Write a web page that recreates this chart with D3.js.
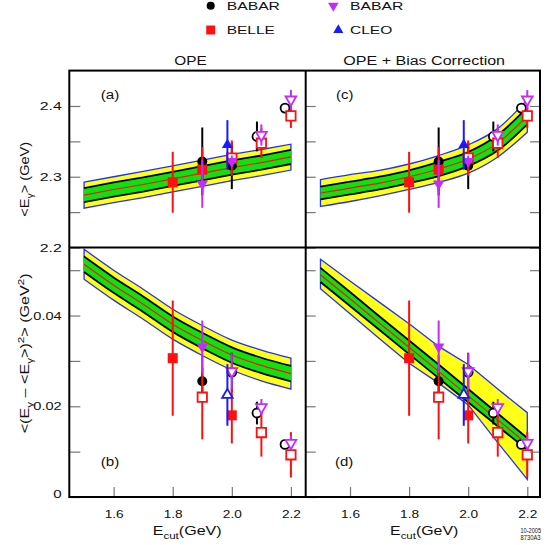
<!DOCTYPE html>
<html><head><meta charset="utf-8">
<script src="https://cdn.jsdelivr.net/npm/d3@7"></script>
<style>body{margin:0;background:#fff} svg{display:block}</style>
</head><body><svg id="c" width="546" height="545"></svg>
<script>
// ---------------- DATA ----------------
const bandX = [1.5, 1.6, 1.7, 1.8, 1.9, 2.0, 2.1, 2.2];
// (a) OPE, <E>
const aOuterHi = [2.2925, 2.300, 2.3075, 2.3155, 2.3235, 2.3315, 2.3385, 2.346];
const aInnerHi = [2.284, 2.292, 2.299, 2.307, 2.315, 2.323, 2.330, 2.338];
const aCenter  = [2.274, 2.282, 2.289, 2.297, 2.305, 2.313, 2.320, 2.328];
const aInnerLo = [2.264, 2.272, 2.279, 2.287, 2.295, 2.303, 2.310, 2.318];
const aOuterLo = [2.2555, 2.2635, 2.2705, 2.2785, 2.2865, 2.2945, 2.3015, 2.3095];
// (c) OPE + bias, <E>
const cOuterHi = [2.296, 2.303, 2.309, 2.318, 2.330, 2.345, 2.368, 2.409];
const cInnerHi = [2.286, 2.293, 2.300, 2.309, 2.321, 2.335, 2.359, 2.398];
const cCenter  = [2.277, 2.284, 2.291, 2.300, 2.311, 2.325, 2.3475, 2.386];
const cInnerLo = [2.268, 2.275, 2.282, 2.291, 2.301, 2.315, 2.337, 2.374];
const cOuterLo = [2.258, 2.265, 2.273, 2.282, 2.292, 2.305, 2.328, 2.363];
// (b) OPE, variance
const bOuterHi = [0.0546, 0.0500, 0.0458, 0.0414, 0.0378, 0.0346, 0.0324, 0.0306];
const bInnerHi = [0.0530, 0.0484, 0.0442, 0.0398, 0.0362, 0.0330, 0.0307, 0.0289];
const bCenter  = [0.0513, 0.0467, 0.0425, 0.0381, 0.0345, 0.0313, 0.0290, 0.0272];
const bInnerLo = [0.0496, 0.0450, 0.0408, 0.0364, 0.0328, 0.0296, 0.0273, 0.0255];
const bOuterLo = [0.0480, 0.0434, 0.0392, 0.0348, 0.0312, 0.0280, 0.0256, 0.0238];
// (d) OPE + bias, variance
const dOuterHi = [0.0524, 0.0476, 0.0429, 0.0382, 0.0332, 0.0292, 0.0238, 0.0186];
const dInnerHi = [0.0505, 0.0452, 0.0398, 0.0345, 0.0292, 0.0238, 0.0184, 0.0130];
const dCenter  = [0.0490, 0.0437, 0.0383, 0.0330, 0.0277, 0.0223, 0.0170, 0.0117];
const dInnerLo = [0.0474, 0.0421, 0.0368, 0.0315, 0.0262, 0.0209, 0.0156, 0.0104];
const dOuterLo = [0.0459, 0.0404, 0.0349, 0.0295, 0.0251, 0.0203, 0.0120, 0.0039];

// BABAR (circles)
const babarX        = [1.9, 2.0, 2.085, 2.18];
const babarMean     = [2.3216, 2.3155, 2.357, 2.397];
const babarMeanErr  = [0.048, 0.033, 0.021, 0.007];
const babarMeanOpen = [0, 0, 1, 1];
const babarVar      = [0.0255, 0.0275, 0.0185, 0.0116];
const babarVarErr   = [0.003, 0.0043, 0.0025, 0.0008];
const babarVarOpen  = [0, 1, 1, 1];
// BELLE (squares)
const belleX        = [1.8, 1.9, 2.0, 2.1, 2.2];
const belleMean     = [2.2922, 2.310, 2.3263, 2.3474, 2.386];
const belleMeanErr  = [0.043, 0.032, 0.025, 0.021, 0.017];
const belleMeanOpen = [0, 0, 1, 1, 1];
const belleVar      = [0.0306, 0.0220, 0.0180, 0.0142, 0.0093];
const belleVarErr   = [0.0127, 0.0093, 0.0062, 0.0053, 0.005];
const belleVarOpen  = [0, 1, 0, 1, 1];
// BABAR (down triangles)
const babar2X        = [1.9, 2.0, 2.1, 2.2];
const babar2Mean     = [2.290, 2.322, 2.359, 2.409];
const babar2MeanErr  = [0.034, 0.008, 0.015, 0.0135];
const babar2MeanOpen = [0, 0, 1, 1];
const babar2Var      = [0.0331, 0.0277, 0.0198, 0.0119];
const babar2VarErr   = [0.0058, 0.004, 0.0018, 0.0015];
const babar2VarOpen  = [0, 1, 1, 1];
// CLEO (up triangles)
const cleoX        = [1.985];
const cleoMean     = [2.345];
const cleoMeanErr  = [0.035];
const cleoMeanOpen = [0];
const cleoVar      = [0.0225];
const cleoVarErr   = [0.0068];
const cleoVarOpen  = [1];

const xTicks = [1.6, 1.8, 2.0, 2.2];
const xTickLabels = ["1.6", "1.8", "2.0", "2.2"];
const yTopMajor = [2.2, 2.3, 2.4];
const yTopLabels = ["2.2", "2.3", "2.4"];
const yTopMinor = [2.25, 2.35];
const yBotMajor = [0, 0.02, 0.04];
const yBotLabels = ["0", "0.02", "0.04"];
const yBotMinor = [0.01, 0.03, 0.05];

// ---------------- LAYOUT ----------------
const svg = d3.select('#c');
const FONT = '"Liberation Sans", Arial, Helvetica, sans-serif';
const X0 = 69.3, XM = 305.7, X1 = 540, Y0 = 70.6, YM = 247.5, Y1 = 497;
const xL = d3.scaleLinear().domain([1.45, 2.25]).range([X0, XM]);
const xR = d3.scaleLinear().domain([1.45, 2.243]).range([XM, X1]);
const yT = d3.scaleLinear().domain([2.2, 2.45]).range([YM, Y0]);
const yB = d3.scaleLinear().domain([0, 0.055]).range([Y1, YM]);

const C = {black: '#000', red: '#ff1010', mag: '#c22cff', blue: '#1a1aff',
           yellow: '#ffff18', green: '#10e010', bandBlue: '#2030ff'};

function txt(s, x, y, size, w, anchor) {
  const t = svg.append('text').attr('x', x).attr('y', y).attr('font-size', size)
    .attr('font-family', FONT).attr('text-anchor', anchor || 'middle').attr('fill', '#111').text(s);
  if (w) t.attr('textLength', w).attr('lengthAdjust', 'spacingAndGlyphs');
  return t;
}
function rich(parts, x, y, size, targetW, rot) {
  const g = svg.append('g').attr('transform', `translate(${x},${y})` + (rot ? ` rotate(${rot})` : ''));
  const inner = g.append('g');
  const t = inner.append('text').attr('font-family', FONT).attr('font-size', size).attr('fill', '#111');
  let cur = 0;
  parts.forEach(p => {
    const off = p.sub ? size * 0.32 : (p.sup ? -size * 0.42 : 0);
    const ts = t.append('tspan').text(p.t).attr('dy', off - cur);
    if (p.sub || p.sup) ts.attr('font-size', size * 0.72);
    cur = off;
  });
  const bb = t.node().getBBox();
  const s = targetW / bb.width;
  inner.attr('transform', `scale(${s},1) translate(${-(bb.x + bb.width / 2)},0)`);
}

function drawBand(xs, ys, hiO, hiI, cen, loI, loO, curve) {
  const pts = bandX.map((v, i) => ({x: v, hiO: hiO[i], hiI: hiI[i], c: cen[i], loI: loI[i], loO: loO[i]}));
  const g = svg.append('g');
  g.append('path').datum(pts)
    .attr('d', d3.area().curve(curve).x(d => xs(d.x)).y0(d => ys(d.loO)).y1(d => ys(d.hiO)))
    .attr('fill', C.yellow).attr('stroke', C.bandBlue).attr('stroke-width', 1.3);
  g.append('path').datum(pts)
    .attr('d', d3.area().curve(curve).x(d => xs(d.x)).y0(d => ys(d.loI)).y1(d => ys(d.hiI)))
    .attr('fill', C.green);
  ['hiI', 'loI'].forEach(k => g.append('path').datum(pts)
    .attr('d', d3.line().curve(curve).x(d => xs(d.x)).y(d => ys(d[k])))
    .attr('fill', 'none').attr('stroke', '#000').attr('stroke-width', 1.8));
  g.append('path').datum(pts)
    .attr('d', d3.line().curve(curve).x(d => xs(d.x)).y(d => ys(d.c)))
    .attr('fill', 'none').attr('stroke', C.red).attr('stroke-width', 1.2);
}

const shapes = {
  circle: {type: d3.symbolCircle, fill: 78, open: 62, rot: 0},
  square: {type: d3.symbolSquare, fill: 100, open: 88, rot: 0},
  down:   {type: d3.symbolTriangle, fill: 56, open: 50, rot: 180},
  up:     {type: d3.symbolTriangle, fill: 52, open: 48, rot: 0}
};
function drawSeries(xs, ys, xv, yv, ev, open, shape, color) {
  const g = svg.append('g');
  const sh = shapes[shape];
  xv.forEach((xx, i) => {
    g.append('line').attr('x1', xs(xx)).attr('x2', xs(xx))
      .attr('y1', ys(yv[i] - ev[i])).attr('y2', ys(yv[i] + ev[i]))
      .attr('stroke', color).attr('stroke-width', 2);
  });
  xv.forEach((xx, i) => {
    const o = open[i];
    g.append('path').attr('d', d3.symbol(sh.type, o ? sh.open : sh.fill)())
      .attr('transform', `translate(${xs(xx)},${ys(yv[i])}) rotate(${sh.rot})`)
      .attr('fill', o ? '#fff' : color).attr('stroke', o ? color : 'none').attr('stroke-width', 1.8);
  });
}

// bands
drawBand(xL, yT, aOuterHi, aInnerHi, aCenter, aInnerLo, aOuterLo, d3.curveLinear);
drawBand(xR, yT, cOuterHi, cInnerHi, cCenter, cInnerLo, cOuterLo, d3.curveMonotoneX);
drawBand(xL, yB, bOuterHi, bInnerHi, bCenter, bInnerLo, bOuterLo, d3.curveMonotoneX);
drawBand(xR, yB, dOuterHi, dInnerHi, dCenter, dInnerLo, dOuterLo, d3.curveLinear);

// points
[[xL, yT], [xR, yT]].forEach(([xs, ys]) => {
  drawSeries(xs, ys, babarX, babarMean, babarMeanErr, babarMeanOpen, 'circle', C.black);
  drawSeries(xs, ys, belleX, belleMean, belleMeanErr, belleMeanOpen, 'square', C.red);
  drawSeries(xs, ys, babar2X, babar2Mean, babar2MeanErr, babar2MeanOpen, 'down', C.mag);
  drawSeries(xs, ys, cleoX, cleoMean, cleoMeanErr, cleoMeanOpen, 'up', C.blue);
});
[[xL, yB], [xR, yB]].forEach(([xs, ys]) => {
  drawSeries(xs, ys, babarX, babarVar, babarVarErr, babarVarOpen, 'circle', C.black);
  drawSeries(xs, ys, belleX, belleVar, belleVarErr, belleVarOpen, 'square', C.red);
  drawSeries(xs, ys, babar2X, babar2Var, babar2VarErr, babar2VarOpen, 'down', C.mag);
  drawSeries(xs, ys, cleoX, cleoVar, cleoVarErr, cleoVarOpen, 'up', C.blue);
});

// axes (inward ticks)
function styleAxis(g) {
  g.select('.domain').remove();
  g.selectAll('.tick line').attr('stroke', '#777').attr('stroke-width', 1.2);
  g.selectAll('.tick text').remove();
}
const yTopTicks = yTopMajor.concat(yTopMinor), yBotTicks = yBotMajor.concat(yBotMinor);
svg.append('g').attr('transform', `translate(${X0},0)`).call(d3.axisLeft(yT).tickValues(yTopTicks).tickSize(-11)).call(styleAxis);
svg.append('g').attr('transform', `translate(${X0},0)`).call(d3.axisLeft(yB).tickValues(yBotTicks).tickSize(-11)).call(styleAxis);
svg.append('g').attr('transform', `translate(${XM},0)`).call(d3.axisLeft(yT).tickValues(yTopTicks).tickSize(-10)).call(styleAxis);
svg.append('g').attr('transform', `translate(${XM},0)`).call(d3.axisLeft(yB).tickValues(yBotTicks).tickSize(-10)).call(styleAxis);
svg.append('g').attr('transform', `translate(${X1},0)`).call(d3.axisRight(yT).tickValues(yTopTicks).tickSize(-10)).call(styleAxis);
svg.append('g').attr('transform', `translate(${X1},0)`).call(d3.axisRight(yB).tickValues(yBotTicks).tickSize(-10)).call(styleAxis);
svg.append('g').attr('transform', `translate(0,${Y1})`).call(d3.axisBottom(xL).tickValues(xTicks).tickSize(-10)).call(styleAxis);
svg.append('g').attr('transform', `translate(0,${Y1})`).call(d3.axisBottom(xR).tickValues(xTicks).tickSize(-10)).call(styleAxis);

// frames
svg.append('rect').attr('x', X0).attr('y', Y0).attr('width', X1 - X0).attr('height', Y1 - Y0)
  .attr('fill', 'none').attr('stroke', '#000').attr('stroke-width', 2);
svg.append('line').attr('x1', XM).attr('x2', XM).attr('y1', Y0).attr('y2', Y1).attr('stroke', '#000').attr('stroke-width', 2);
svg.append('line').attr('x1', X0).attr('x2', X1).attr('y1', YM).attr('y2', YM).attr('stroke', '#000').attr('stroke-width', 2);

// tick labels
const yLabW = {"2.2": 22, "2.3": 22, "2.4": 22, "0": 8.4, "0.02": 28.4, "0.04": 28.4};
yTopMajor.forEach((v, i) => txt(yTopLabels[i], 61.7, yT(v) + 4, 11, yLabW[yTopLabels[i]], 'end'));
yBotMajor.forEach((v, i) => txt(yBotLabels[i], 61.7, Math.min(yB(v), 493.5) + 4, 11, yLabW[yBotLabels[i]], 'end'));
xTicks.forEach((v, i) => { txt(xTickLabels[i], xL(v) + 0.5, 517.5, 11.5, 19); txt(xTickLabels[i], xR(v) + 0.5, 517.5, 11.5, 19); });

// titles & panel labels
txt('OPE', 190.5, 65, 12, 32.4);
txt('OPE + Bias Correction', 424.2, 65, 12, 161.7);
txt('(a)', 110, 98.8, 12, 18.6);
txt('(c)', 344.7, 98.8, 12, 17.3);
txt('(b)', 110, 466, 12, 18.6);
txt('(d)', 344.2, 466, 12, 18.3);

// axis titles
rich([{t: '<E'}, {t: 'γ', sub: 1}, {t: '> (GeV)'}], 29.3, 179.2, 13, 75, -90);
rich([{t: '<(E'}, {t: 'γ', sub: 1}, {t: ' – <E'}, {t: 'γ', sub: 1}, {t: '>)'}, {t: '2', sup: 1}, {t: '> (GeV'}, {t: '2', sup: 1}, {t: ')'}], 29.3, 353.3, 13, 160, -90);
rich([{t: 'E'}, {t: 'cut', sub: 1}, {t: '(GeV)'}], 187.2, 535, 13.5, 69);
rich([{t: 'E'}, {t: 'cut', sub: 1}, {t: '(GeV)'}], 424.2, 535, 13.5, 68.3);
txt('10-2005', 520.5, 533.3, 7, 20.5, 'start');
txt('8730A3', 520.5, 539.5, 7, 20, 'start');

// legend
const leg = [
  {shape: 'circle', color: C.black, x: 210.7, y: 5.7, label: 'BABAR', w: 53.3, size: 52},
  {shape: 'down', color: C.mag, x: 333.3, y: 5.7, label: 'BABAR', w: 53.3, size: 48},
  {shape: 'square', color: C.red, x: 210.7, y: 30, label: 'BELLE', w: 48.3, size: 80},
  {shape: 'up', color: C.blue, x: 338.3, y: 30, label: 'CLEO', w: 42.3, size: 44}
];
leg.forEach((d, i) => {
  svg.append('path').attr('d', d3.symbol(shapes[d.shape].type, d.size)())
    .attr('transform', `translate(${d.x},${d.y}) rotate(${shapes[d.shape].rot})`).attr('fill', d.color);
  txt(d.label, i % 2 === 0 ? 226.7 : 350, d.y + 4.3, 11.5, d.w, 'start');
});
</script></body></html>
